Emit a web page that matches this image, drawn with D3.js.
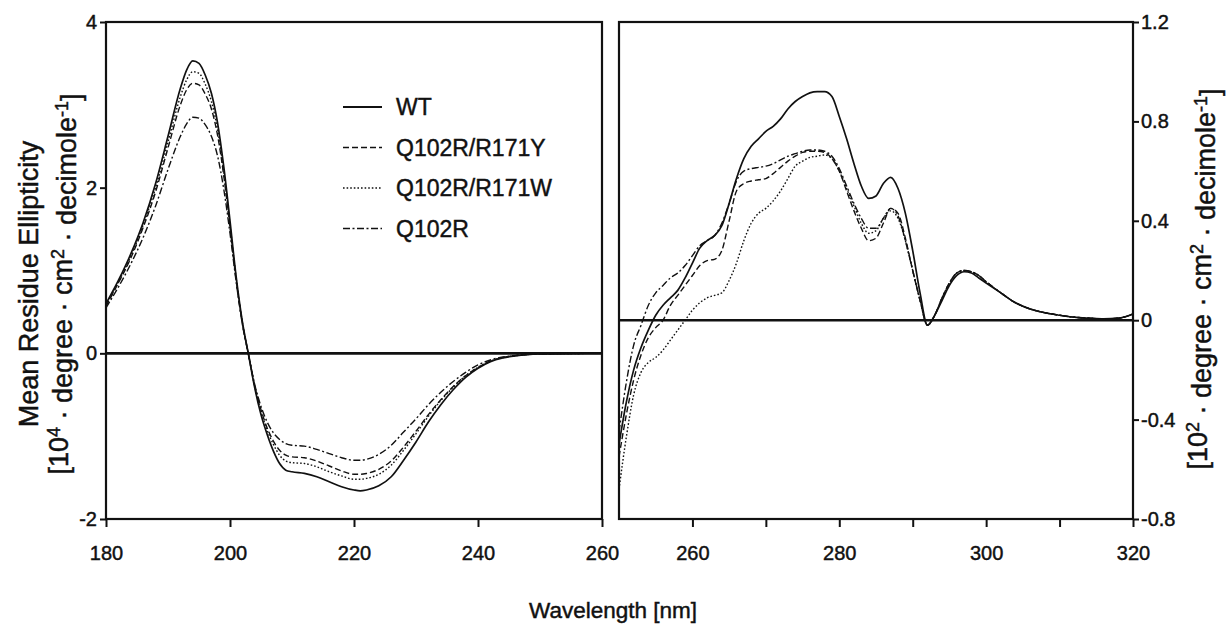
<!DOCTYPE html>
<html>
<head>
<meta charset="utf-8">
<script src="https://cdn.jsdelivr.net/npm/d3@7"></script>
<style>
  body { margin: 0; background: #fff; }
  svg text { font-family: "Liberation Sans", Arial, Helvetica, sans-serif; fill: #111; stroke: #111; stroke-width: 0.45px; }
  .tick line { stroke: #111; stroke-width: 2; }
  .domain { display: none; }
</style>
</head>
<body>
<svg id="chart" width="1226" height="632"></svg>
<script>
// ---- data ----
var seriesNames = ["WT", "Q102R/R171Y", "Q102R/R171W", "Q102R"];

// far-UV, 180-260 nm, units 10^4 deg cm2 dmol-1
var farWl = [180,182,184,186,188,190,192,193,194,195,196,197,198,199,200,201,202,203,204,205,206,207,208,209,210,212,214,216,218,220,221,222,224,226,228,230,232,234,236,238,240,242,244,246,248,250,255,260];
var farWT = [0.60,0.88,1.20,1.58,2.05,2.62,3.20,3.42,3.53,3.50,3.36,3.14,2.78,2.25,1.60,0.92,0.38,-0.02,-0.42,-0.74,-0.98,-1.18,-1.33,-1.41,-1.43,-1.45,-1.49,-1.55,-1.61,-1.65,-1.66,-1.65,-1.60,-1.49,-1.29,-1.07,-0.83,-0.62,-0.44,-0.29,-0.18,-0.10,-0.055,-0.03,-0.015,-0.008,-0.002,0];
var farY  = [0.57,0.85,1.15,1.52,1.95,2.48,3.00,3.18,3.26,3.24,3.13,2.95,2.63,2.14,1.52,0.88,0.36,-0.02,-0.40,-0.68,-0.90,-1.06,-1.17,-1.23,-1.25,-1.26,-1.30,-1.36,-1.42,-1.46,-1.46,-1.45,-1.40,-1.30,-1.13,-0.94,-0.74,-0.56,-0.40,-0.27,-0.17,-0.095,-0.05,-0.028,-0.014,-0.007,-0.002,0];
var farW  = [0.58,0.86,1.17,1.55,2.00,2.55,3.10,3.30,3.40,3.38,3.25,3.04,2.70,2.18,1.55,0.90,0.37,-0.02,-0.40,-0.70,-0.93,-1.10,-1.23,-1.30,-1.32,-1.33,-1.37,-1.43,-1.48,-1.52,-1.52,-1.51,-1.46,-1.35,-1.17,-0.97,-0.76,-0.57,-0.41,-0.27,-0.17,-0.095,-0.05,-0.028,-0.014,-0.007,-0.002,0];
var farQ  = [0.55,0.80,1.08,1.40,1.78,2.22,2.62,2.77,2.85,2.84,2.76,2.62,2.38,1.98,1.45,0.86,0.35,-0.02,-0.38,-0.64,-0.83,-0.96,-1.04,-1.09,-1.11,-1.12,-1.16,-1.21,-1.26,-1.29,-1.29,-1.28,-1.22,-1.11,-0.95,-0.79,-0.62,-0.47,-0.34,-0.23,-0.14,-0.08,-0.045,-0.025,-0.013,-0.006,-0.002,0];

// near-UV, 250-320 nm, units 10^2 deg cm2 dmol-1
var nearWl = [250,251,252,253,254,255,256,257,258,259,260,261,262,263,264,265,266,267,268,269,270,271,272,273,274,275,276,277,278,279,280,281,282,283,284,285,286,287,288,289,290,291,292,293,294,295,296,297,298,299,300,302,304,306,308,310,312,314,316,318,320];
var nearWT = [-0.50,-0.33,-0.20,-0.11,-0.04,0.02,0.06,0.09,0.12,0.17,0.23,0.29,0.32,0.34,0.38,0.47,0.57,0.65,0.70,0.73,0.76,0.78,0.81,0.85,0.88,0.90,0.915,0.92,0.92,0.90,0.82,0.73,0.63,0.54,0.49,0.50,0.55,0.575,0.53,0.43,0.28,0.11,-0.02,0.02,0.08,0.14,0.18,0.195,0.19,0.17,0.15,0.11,0.07,0.045,0.03,0.02,0.012,0.008,0.005,0.008,0.025];
var nearY  = [-0.55,-0.38,-0.24,-0.14,-0.07,-0.03,0.00,0.06,0.10,0.14,0.18,0.22,0.24,0.245,0.28,0.40,0.52,0.55,0.56,0.565,0.57,0.59,0.615,0.64,0.66,0.675,0.68,0.68,0.675,0.65,0.60,0.52,0.44,0.37,0.32,0.33,0.39,0.45,0.43,0.33,0.20,0.08,-0.02,0.02,0.09,0.15,0.19,0.20,0.195,0.18,0.155,0.11,0.07,0.045,0.03,0.02,0.012,0.008,0.005,0.008,0.025];
var nearW  = [-0.68,-0.47,-0.30,-0.21,-0.17,-0.15,-0.12,-0.08,-0.04,0.00,0.04,0.07,0.09,0.10,0.11,0.16,0.23,0.32,0.39,0.43,0.45,0.48,0.52,0.57,0.62,0.64,0.655,0.66,0.665,0.65,0.60,0.53,0.46,0.39,0.35,0.36,0.41,0.44,0.41,0.32,0.20,0.08,-0.02,0.02,0.09,0.15,0.19,0.20,0.195,0.18,0.155,0.11,0.07,0.045,0.03,0.02,0.012,0.008,0.005,0.008,0.025];
var nearQ  = [-0.45,-0.25,-0.10,-0.02,0.06,0.11,0.14,0.17,0.19,0.22,0.26,0.30,0.32,0.34,0.39,0.47,0.56,0.60,0.61,0.615,0.62,0.63,0.645,0.66,0.67,0.68,0.685,0.685,0.68,0.66,0.61,0.54,0.47,0.41,0.37,0.37,0.41,0.45,0.42,0.32,0.20,0.08,-0.02,0.02,0.09,0.15,0.19,0.20,0.195,0.18,0.155,0.11,0.07,0.045,0.03,0.02,0.012,0.008,0.005,0.008,0.025];

var farTicks = [180,200,220,240,260];
var farYTicks = [-2,0,2,4];
var nearTicks = [260,270,280,290,300,310,320];
var nearLabelled = [260,280,300,320];
var nearYTicks = [-0.8,-0.4,0,0.4,0.8,1.2];

// line styles per series (same order as seriesNames)
var dashes = [null, "6,3", "1.6,2", "7,2.5,2,2.5"];

var svg = d3.select("#chart");
var plotTop = 22, plotBottom = 519;

// ---- scales ----
var xFar = d3.scaleLinear().domain([180,260]).range([106,602]);
var yFar = d3.scaleLinear().domain([-2,4]).range([plotBottom, plotTop]);
var xNear = d3.scaleLinear().domain([250,320]).range([619,1133]);
var yNear = d3.scaleLinear().domain([-0.8,1.2]).range([plotBottom, plotTop]);

function drawPanel(xs, ys, wl, sets) {
	var g = svg.append("g");
	// frame
	g.append("rect")
		.attr("x", xs.range()[0]).attr("y", plotTop)
		.attr("width", xs.range()[1]-xs.range()[0]).attr("height", plotBottom-plotTop)
		.attr("fill", "none").attr("stroke", "#111").attr("stroke-width", 2.2);
	// zero line
	g.append("line")
		.attr("x1", xs.range()[0]).attr("x2", xs.range()[1])
		.attr("y1", ys(0)).attr("y2", ys(0))
		.attr("stroke", "#111").attr("stroke-width", 2.6);

	var line = d3.line()
		.x(function(d){ return xs(d[0]); })
		.y(function(d){ return ys(d[1]); })
		.curve(d3.curveMonotoneX);

	sets.forEach(function(vals, i){
		var pts = wl.map(function(w, k){ return [w, vals[k]]; });
		g.append("path")
			.attr("d", line(pts))
			.attr("fill", "none")
			.attr("stroke", "#111")
			.attr("stroke-width", i === 0 ? 1.7 : 1.4)
			.attr("stroke-dasharray", dashes[i]);
	});
	return g;
}

drawPanel(xFar, yFar, farWl, [farWT, farY, farW, farQ]);
drawPanel(xNear, yNear, nearWl, [nearWT, nearY, nearW, nearQ]);

// ---- axes ----
svg.append("g")
	.attr("transform", "translate(0," + plotBottom + ")")
	.call(d3.axisBottom(xFar).tickValues(farTicks).tickSize(8).tickPadding(19).tickFormat(d3.format("d")))
	.selectAll("text").style("font-size", "20px");

svg.append("g")
	.attr("transform", "translate(106,0)")
	.call(d3.axisLeft(yFar).tickValues(farYTicks).tickSize(6).tickPadding(3).tickFormat(function(d){ return String(d); }))
	.selectAll("text").style("font-size", "20px");

svg.append("g")
	.attr("transform", "translate(0," + plotBottom + ")")
	.call(d3.axisBottom(xNear).tickValues(nearTicks).tickSize(8).tickPadding(19)
		.tickFormat(function(d){ return nearLabelled.indexOf(d) > -1 ? String(d) : ""; }))
	.selectAll("text").style("font-size", "20px");

svg.append("g")
	.attr("transform", "translate(1133,0)")
	.call(d3.axisRight(yNear).tickValues(nearYTicks).tickSize(6).tickPadding(2)
		.tickFormat(function(d){ return d === 0 ? "0" : String(Math.round(d*10)/10); }))
	.selectAll("text").style("font-size", "20px");

// ---- legend ----
var legend = svg.append("g");
seriesNames.forEach(function(name, i){
	var yy = 107 + i*40.5;
	legend.append("line")
		.attr("x1", 343).attr("x2", 382).attr("y1", yy).attr("y2", yy)
		.attr("stroke", "#111").attr("stroke-width", i === 0 ? 2 : 1.6)
		.attr("stroke-dasharray", dashes[i]);
	legend.append("text")
		.attr("x", 396).attr("y", yy).attr("dy", "0.36em")
		.style("font-size", "23px")
		.text(name);
});

// ---- axis titles ----
function unitLabel(g, power) {
	g.append("tspan").text("[10");
	g.append("tspan").attr("dy", "-0.45em").style("font-size", "18px").text(power);
	g.append("tspan").attr("dy", "0.45em").text(" \u00b7 degree \u00b7 cm");
	g.append("tspan").attr("dy", "-0.45em").style("font-size", "18px").text("2");
	g.append("tspan").attr("dy", "0.45em").text(" \u00b7 decimole");
	g.append("tspan").attr("dy", "-0.45em").style("font-size", "18px").text("-1");
	g.append("tspan").attr("dy", "0.45em").text("]");
}

svg.append("text")
	.attr("transform", "translate(38,284) rotate(-90)")
	.attr("text-anchor", "middle")
	.style("font-size", "27px")
	.text("Mean Residue Ellipticity");

unitLabel(svg.append("text")
	.attr("transform", "translate(68,284) rotate(-90)")
	.attr("text-anchor", "middle")
	.style("font-size", "27px"), "4");

unitLabel(svg.append("text")
	.attr("transform", "translate(1207,279) rotate(-90)")
	.attr("text-anchor", "middle")
	.style("font-size", "27px"), "2");

svg.append("text")
	.attr("x", 613).attr("y", 618)
	.attr("text-anchor", "middle")
	.style("font-size", "22.5px")
	.text("Wavelength [nm]");
</script>
</body>
</html>
